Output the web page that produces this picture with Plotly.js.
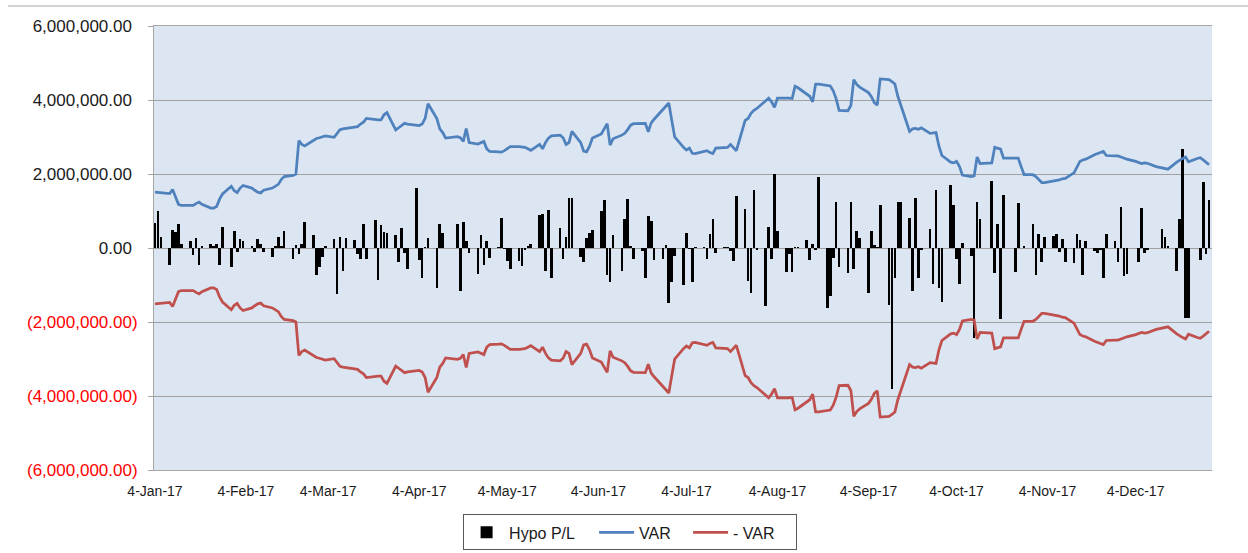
<!DOCTYPE html>
<html>
<head>
<meta charset="utf-8">
<script src="https://cdn.plot.ly/plotly-3.0.1.min.js"></script>
<style>html,body{margin:0;padding:0;background:#fff;}#chart{width:1248px;height:553px;}</style>
</head>
<body>
<div id="chart"></div>
<script>
// Trading days of 2017, one list per month
const monthDays = [
  [4,5,6,9,10,11,12,13,16,17,18,19,20,23,24,25,26,27,30,31],
  [1,2,3,6,7,8,9,10,13,14,15,16,17,20,21,22,23,24,27,28],
  [1,2,3,6,7,8,9,10,13,14,15,16,17,20,21,22,23,24,27,28,29,30,31],
  [3,4,5,6,7,10,11,12,13,14,17,18,19,20,21,24,25,26,27,28],
  [1,2,3,4,5,8,9,10,11,12,15,16,17,18,19,22,23,24,25,26,29,30,31],
  [1,2,5,6,7,8,9,12,13,14,15,16,19,20,21,22,23,26,27,28,29,30],
  [3,4,5,6,7,10,11,12,13,14,17,18,19,20,21,24,25,26,27,28,31],
  [1,2,3,4,7,8,9,10,11,14,15,16,17,18,21,22,23,24,25,28,29,30,31],
  [1,4,5,6,7,8,11,12,13,14,15,18,19,20,21,22,25,26,27,28,29],
  [2,3,4,5,6,9,10,11,12,13,16,17,18,19,20,23,24,25,26,27,30,31],
  [1,2,3,6,7,8,9,10,13,14,15,16,17,20,21,22,23,24,27,28,29,30],
  [1,4,5,6,7,8,11,12,13,14,15,18,19,20,21,22,25,26,27,28,29]
];

// VAR, millions, per month
const varMillions = [
  [1.51,1.50,1.49,1.47,1.58,1.35,1.18,1.15,1.14,1.15,1.20,1.24,1.18,1.08,1.08,1.12,1.32,1.46,1.67,1.55],
  [1.50,1.62,1.69,1.62,1.56,1.51,1.49,1.56,1.62,1.66,1.72,1.85,1.93,1.96,2.00,2.90,2.80,2.76,2.92,2.96],
  [2.98,3.00,3.03,2.99,3.10,3.20,3.22,3.23,3.26,3.28,3.35,3.40,3.50,3.46,3.46,3.46,3.60,3.66,3.19,3.25,3.30,3.37,3.35],
  [3.31,3.31,3.35,3.50,3.90,3.50,3.22,3.12,2.97,2.98,3.01,2.98,2.88,3.23,2.85,2.81,2.84,2.88,2.68,2.61],
  [2.60,2.59,2.63,2.68,2.74,2.74,2.74,2.72,2.68,2.64,2.80,2.68,2.85,2.97,3.03,3.05,2.98,2.80,2.85,3.15,2.85,2.62,2.60],
  [2.75,2.97,3.08,3.22,3.36,2.78,2.95,3.05,3.10,3.20,3.32,3.36,3.37,3.37,3.14,3.38,3.48,3.75,3.86,3.92,3.45,3.00],
  [2.72,2.65,2.70,2.56,2.55,2.60,2.63,2.58,2.55,2.70,2.70,2.72,2.80,2.72,2.63,3.45,3.50,3.64,3.72,3.77,4.00],
  [4.05,3.95,3.80,4.05,4.06,4.05,4.04,4.37,4.33,4.15,4.10,3.95,4.43,4.43,4.40,4.38,4.25,4.03,3.72,3.71,3.85,4.55,4.42],
  [4.35,4.20,4.09,3.93,3.86,4.57,4.55,4.50,4.43,4.10,3.85,3.15,3.22,3.23,3.21,3.25,3.10,3.11,3.12,2.75,2.50],
  [2.32,2.30,2.34,2.20,1.97,1.93,1.95,2.46,2.28,2.28,2.30,2.72,2.70,2.67,2.43,2.43,2.43,2.43,2.20,1.98,1.98,1.93],
  [1.85,1.77,1.77,1.80,1.82,1.84,1.87,1.88,2.03,2.20,2.34,2.38,2.40,2.52,2.56,2.58,2.61,2.50,2.49,2.49,2.46,2.43],
  [2.40,2.34,2.31,2.28,2.30,2.29,2.20,2.18,2.16,2.14,2.13,2.32,2.38,2.42,2.46,2.33,2.42,2.44,2.38,2.32,2.25]
];

// Hypo P/L, millions, per month
const plMillions = [
  [0.68,1.00,0.30,-0.47,0.50,0.42,0.64,0.10,0.20,-0.20,0.27,-0.45,0.05,0.10,0.05,0.12,-0.47,0.57,-0.52,0.45],
  [-0.10,0.25,0.20,0.05,-0.10,0.25,0.10,-0.10,-0.25,0.05,0.30,0.05,0.45,-0.29,0.07,-0.17,0.12,0.71,0.34,-0.73],
  [-0.50,-0.23,0.05,0.23,-1.25,0.30,-0.62,0.28,0.22,-0.17,-0.30,0.66,-0.29,0.77,-0.86,0.61,0.43,0.41,0.34,-0.38,0.55,-0.13,-0.56],
  [1.62,-0.32,-0.80,0.03,0.28,-1.07,0.66,0.41,0,0,0.66,-1.16,0.71,0.19,-0.13,-0.71,0.34,-0.47,0.19,-0.26],
  [0.03,0.82,-0.04,-0.35,-0.56,-0.35,-0.48,-0.05,0.05,0.10,0.90,0.93,-0.62,1.02,-0.80,0.55,-0.30,0.30,1.35,1.35,-0.23,-0.39,0.28],
  [0.41,0.48,1.00,1.29,-0.73,-0.93,0.34,-0.62,0.79,1.33,0.05,-0.30,-0.08,-0.82,0.86,0.73,-0.32,-0.30,0.08,-1.49,-0.93,-0.22],
  [-1.00,0.40,-0.04,-0.93,0.03,0.02,-0.29,0.37,0.79,-0.13,0.04,0.03,-0.08,-0.35,1.40,1.06,-0.89,-1.22,1.58,-0.05,-1.56],
  [0.57,-0.30,2.01,0.46,-0.65,-0.17,-0.65,0.03,0.02,0.22,-0.32,0.12,-0.05,1.92,-1.63,-1.29,-0.26,1.24,-0.50,-0.68,1.24,-0.56,0.46],
  [0.28,-1.22,0.46,0.07,0.04,1.15,-1.54,-3.82,-0.80,1.24,1.24,0.82,-1.16,1.35,-0.82,-0.05,0.52,-0.98,1.58,-1.07,-1.47],
  [1.69,1.17,-0.29,-0.98,0.14,-0.22,-2.44,1.24,0.79,0,1.80,-0.68,0.64,-1.92,1.42,0,-0.65,1.22,0,0.05,0.64,-0.73],
  [0.39,-0.38,0.30,0.32,0.39,-0.11,0.23,-0.38,-0.41,0.39,0.22,-0.73,0.19,-0.08,-0.13,-0.05,-0.80,0.37,0.19,-0.38,1.11,-0.75],
  [-0.71,0,-0.38,1.08,-0.13,-0.05,0,0,0.52,0.30,0.05,-0.62,0.79,2.67,-1.90,-1.90,0,-0.32,1.78,-0.17,1.31]
];

const xTickDates = ['2017-01-04','2017-02-04','2017-03-04','2017-04-04','2017-05-04','2017-06-04',
                    '2017-07-04','2017-08-04','2017-09-04','2017-10-04','2017-11-04','2017-12-04'];
const xTickLabels = ['4-Jan-17','4-Feb-17','4-Mar-17','4-Apr-17','4-May-17','4-Jun-17',
                     '4-Jul-17','4-Aug-17','4-Sep-17','4-Oct-17','4-Nov-17','4-Dec-17'];
const yTickValues = [6000000,4000000,2000000,0,-2000000,-4000000,-6000000];
const yTickLabels = ['6,000,000.00','4,000,000.00','2,000,000.00','0.00',
                     '(2,000,000.00)','(4,000,000.00)','(6,000,000.00)'];
const seriesNames = ['Hypo P/L','VAR','- VAR'];

const pad = n => (n < 10 ? '0' : '') + n;
const dates = [];
monthDays.forEach((days, m) => days.forEach(d => dates.push('2017-' + pad(m + 1) + '-' + pad(d))));
const varValues = varMillions.flat().map(v => v * 1e6);
const negVarValues = varValues.map(v => -v);
const plValues = plMillions.flat().map(v => v * 1e6);

const yTickText = yTickValues.map((v, i) => v < 0
  ? '<span style="color:#ff0000">' + yTickLabels[i] + '</span>'
  : yTickLabels[i] + '<span style="color:rgba(0,0,0,0)">)</span>');

const traces = [
  {type:'bar', name:seriesNames[0], x:dates, y:plValues, width:0.9*86400000,
   marker:{color:'#000000', line:{width:0}}, legendwidth:80},
  {type:'scatter', mode:'lines', name:seriesNames[1], x:dates, y:varValues,
   line:{color:'#4f81bd', width:2.75}, legendwidth:44},
  {type:'scatter', mode:'lines', name:seriesNames[2], x:dates, y:negVarValues,
   line:{color:'#c0504d', width:2.75}, legendwidth:58}
];

const layout = {
  width:1248, height:553,
  margin:{l:154, r:36, t:26, b:83, autoexpand:false},
  paper_bgcolor:'#ffffff', plot_bgcolor:'#dce6f2',
  font:{family:'Liberation Sans, Arial, sans-serif', color:'#1a1a1a'},
  showlegend:true,
  bargap:0,
  xaxis:{type:'date', range:['2017-01-03 16:00','2017-12-30 00:00'],
    tickmode:'array', tickvals:xTickDates, ticktext:xTickLabels,
    tickfont:{size:14, color:'#1a1a1a'}, showgrid:false, zeroline:false,
    showline:true, linecolor:'#a6a6a6', linewidth:1, mirror:true, ticks:'',
    ticklabelstandoff:8},
  yaxis:{range:[-6000000,6000000], tickmode:'array', tickvals:yTickValues, ticktext:yTickText,
    tickfont:{size:17, color:'#1a1a1a'}, showgrid:true, gridcolor:'#a0a0a0', gridwidth:1,
    zeroline:false, showline:true, linecolor:'#a6a6a6', linewidth:1,
    ticks:'outside', ticklen:5, tickcolor:'#a6a6a6', ticklabelstandoff:7},
  legend:{orientation:'h', x:0.45, xanchor:'center', y:-0.1, yanchor:'top',
    bordercolor:'#595959', borderwidth:1, bgcolor:'#ffffff', itemwidth:35,
    entrywidthmode:'pixels',
    font:{size:16, color:'#1a1a1a'}, traceorder:'normal'},
  shapes:[{type:'line', xref:'paper', yref:'paper', x0:-0.138, x1:1.034, y0:1.045, y1:1.045,
    line:{color:'#a6a6a6', width:1}}]
};

Plotly.newPlot('chart', traces, layout, {displayModeBar:false, staticPlot:true});
</script>
</body>
</html>
